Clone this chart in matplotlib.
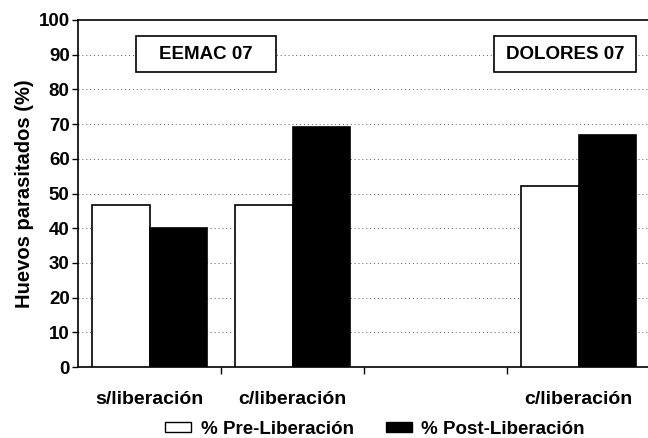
import matplotlib
matplotlib.use('Agg')
import matplotlib.pyplot as plt
from matplotlib.patches import Patch, Rectangle
import numpy as np

plt.rcParams['font.family'] = ['Liberation Sans', 'DejaVu Sans']
plt.rcParams['font.weight'] = 'bold'
plt.rcParams['axes.labelweight'] = 'bold'

categories = ['s/liberación', 'c/liberación', '', 'c/liberación']
pre_lib = [46.8, 46.8, np.nan, 52.2]
post_lib = [40.0, 69.2, np.nan, 66.8]
site_labels = ['EEMAC 07', 'DOLORES 07']

W, H = 648, 438
fig = plt.figure(figsize=(W / 100, H / 100), dpi=100)
ax = fig.add_axes([78 / W, 71 / H, 572 / W, 347 / H])

x = np.arange(len(categories))
bw = 0.4
ax.bar(x - bw / 2, pre_lib, bw, color='white', edgecolor='black', linewidth=1.2, zorder=3)
ax.bar(x + bw / 2, post_lib, bw, color='black', edgecolor='black', linewidth=1.2, zorder=3)

ax.set_xlim(-0.5, 3.5)
ax.set_ylim(0, 100)
ax.set_yticks(np.arange(0, 101, 10))
ax.tick_params(axis='y', labelsize=13.5, length=4, width=1, pad=2, direction='out')
ax.set_xticks(x)
ax.set_xticklabels(categories)
ax.tick_params(axis='x', which='major', length=0, labelsize=14, pad=17)
ax.set_xticks([0.5, 1.5, 2.5], minor=True)
ax.tick_params(axis='x', which='minor', length=5, width=1, direction='out')

# dotted reference lines at every 10 %
for yv in range(10, 100, 10):
    ax.axhline(yv, color='0.35', linestyle=(0, (1, 3)), linewidth=0.7, zorder=1)

for s in ['left', 'bottom', 'top']:
    ax.spines[s].set_linewidth(1.2)
ax.spines['right'].set_visible(False)

ax.set_ylabel('Huevos parasitados (%)', fontsize=14.5, fontweight='bold', labelpad=3)

# site boxes
for (x0, x1), lab in zip([(-0.094, 0.885), (2.409, 3.402)], site_labels):
    ax.add_patch(Rectangle((x0, 85.0), x1 - x0, 10.5, facecolor='white',
                           edgecolor='black', linewidth=1.2, zorder=5))
    ax.text((x0 + x1) / 2, 90.2, lab, ha='center', va='center', fontsize=13.5,
            fontweight='bold', zorder=6)

handles = [Patch(facecolor='white', edgecolor='black', linewidth=1),
           Patch(facecolor='black', edgecolor='black')]
fig.legend(handles, ['% Pre-Liberación', '% Post-Liberación'], loc='center',
           bbox_to_anchor=(375 / W, 1 - 429 / H), ncol=2, frameon=False,
           fontsize=13.5, handlelength=1.4, handleheight=0.5,
           handletextpad=0.5, columnspacing=1.7)

fig.savefig('out.png', dpi=100)
